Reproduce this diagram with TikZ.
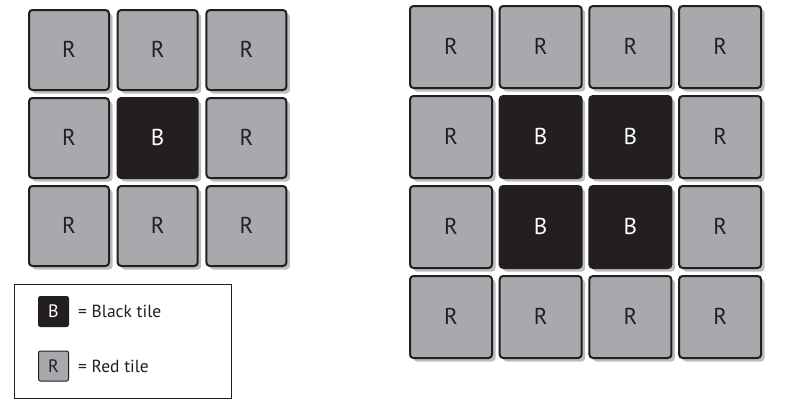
\documentclass[tikz,border=0pt]{standalone}
\usepackage{fontspec}
\setmainfont{PT Sans}
\usetikzlibrary{shadows,positioning}

\definecolor{tilegray}{HTML}{A7A9AC}
\definecolor{tileblack}{HTML}{231F20}
\definecolor{shadowgray}{HTML}{BDBDBD}

\tikzset{
  tile/.style={draw=tileblack, line width=2pt, rounded corners=3.5pt,
    minimum size=#1, inner sep=0pt, font=\fontsize{23}{23}\selectfont,
    drop shadow={shadow xshift=3.5pt, shadow yshift=-3.5pt, fill=shadowgray, opacity=1}},
  red tile/.style={tile=#1, fill=tilegray, text=tileblack},
  black tile/.style={tile=#1, fill=tileblack, text=white},
  key tile/.style={draw=tileblack, line width=1pt, rounded corners=2pt,
    minimum size=30pt, inner sep=0pt, font=\fontsize{18}{18}\selectfont},
  key text/.style={inner sep=0pt, text=tileblack, font=\fontsize{17.5}{17.5}\selectfont}
}

\begin{document}
\begin{tikzpicture}[x=1pt, y=-1pt]
		\useasboundingbox (0,0) rectangle (786,408);
		
		% Small board: 3 x 3
		\foreach \r in {1,2,3} {
			\foreach \c in {1,2,3} {
				\pgfmathtruncatemacro{\inner}{(\r==2)*(\c==2)}
				\ifnum\inner=1
					\node[black tile=80pt] (S\r\c) at ({69+88.7*(\c-1)}, {50+88*(\r-1)}) {\raisebox{2pt}{B}};
				\else
					\node[red tile=80pt] (S\r\c) at ({69+88.7*(\c-1)}, {50+88*(\r-1)}) {\raisebox{2pt}{R}};
				\fi
			}
		}
		
		% Large board: 4 x 4
		\foreach \r in {1,2,3,4} {
			\foreach \c in {1,2,3,4} {
				\pgfmathtruncatemacro{\inner}{(\r>1)*(\r<4)*(\c>1)*(\c<4)}
				\ifnum\inner=1
					\node[black tile=82pt] (L\r\c) at ({451+89.7*(\c-1)}, {47+90*(\r-1)}) {\raisebox{2pt}{B}};
				\else
					\node[red tile=82pt] (L\r\c) at ({451+89.7*(\c-1)}, {47+90*(\r-1)}) {\raisebox{2pt}{R}};
				\fi
			}
		}
		
		% Legend
		\node[draw=tileblack, line width=1.3pt, minimum width=217pt, minimum height=114pt,
			inner sep=0pt, anchor=north west] (legend) at (13.5,283.5) {};
		\node[key tile, fill=tileblack, text=white] (keyB) at (53.5,311.5) {B};
		\node[key text, right=9pt of keyB] (textB) {= Black tile};
		\node[key tile, fill=tilegray, text=tileblack] (keyR) at (53.5,366) {R};
		\node[key text, right=9pt of keyR] (textR) {= Red tile};
		
	\end{tikzpicture}
\end{document}
